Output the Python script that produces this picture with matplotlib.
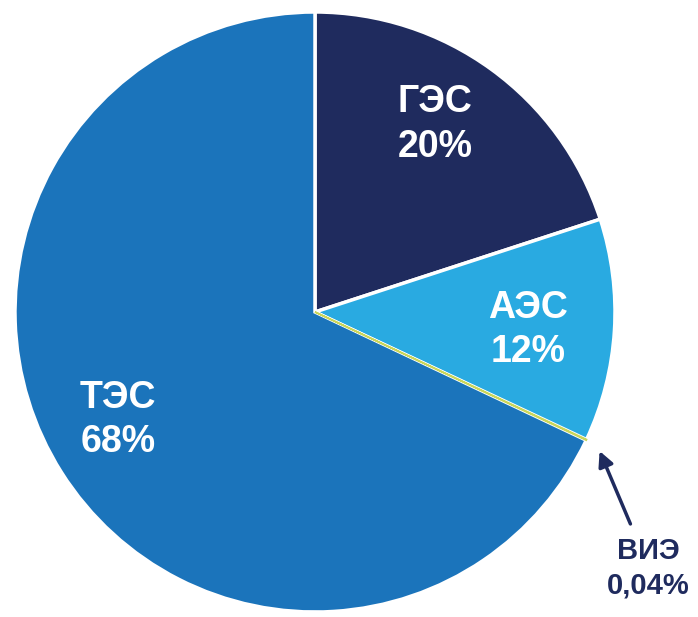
import matplotlib.pyplot as plt

labels = ['ГЭС', 'АЭС', 'ВИЭ', 'ТЭС']
shares = [20, 12, 0.04, 68]
pct_text = ['20%', '12%', '0,04%', '68%']
colors = ['#1f2b5e', '#29aae1', '#c9d65a', '#1b74bb']

plt.rcParams['font.family'] = ['Liberation Sans Narrow', 'Liberation Sans', 'DejaVu Sans']

fig = plt.figure(figsize=(6.98, 6.17), dpi=100)
ax = fig.add_axes([15 / 698, 5 / 617, 600 / 698, 600 / 617])

wedges, _ = ax.pie(shares, colors=colors, startangle=90, counterclock=False,
                   radius=1, wedgeprops=dict(edgecolor='white', linewidth=2.5))
# tiny ВИЭ slice: make it visible as a thin line between white borders
wedges[2].set_edgecolor(colors[2])
wedges[2].set_linewidth(1.2)
wedges[2].set_zorder(3)

ax.set_xlim(-1, 1)
ax.set_ylim(-1, 1)
ax.set_aspect('equal')
ax.axis('off')

txt = dict(color='white', fontsize=27, fontweight='bold', ha='center', va='center',
           linespacing=1.3)
ax.text(0.40, 0.625, labels[0] + '\n' + pct_text[0], **txt)
ax.text(0.71, -0.06, labels[1] + '\n' + pct_text[1], **txt)
ax.text(-0.657, -0.36, labels[3] + '\n' + pct_text[3], **txt)

ax.text(1.11, -0.855, labels[2] + '\n' + pct_text[2], color='#1f2b5e', fontsize=21,
        fontweight='bold', ha='center', va='center', linespacing=1.3, clip_on=False)
ax.annotate('', xy=(0.945, -0.455), xytext=(1.055, -0.715),
            arrowprops=dict(arrowstyle='-|>,head_length=0.9,head_width=0.45',
                            color='#1f2b5e', lw=2.5),
            annotation_clip=False)

fig.savefig('out.png', dpi=100, facecolor='white')
